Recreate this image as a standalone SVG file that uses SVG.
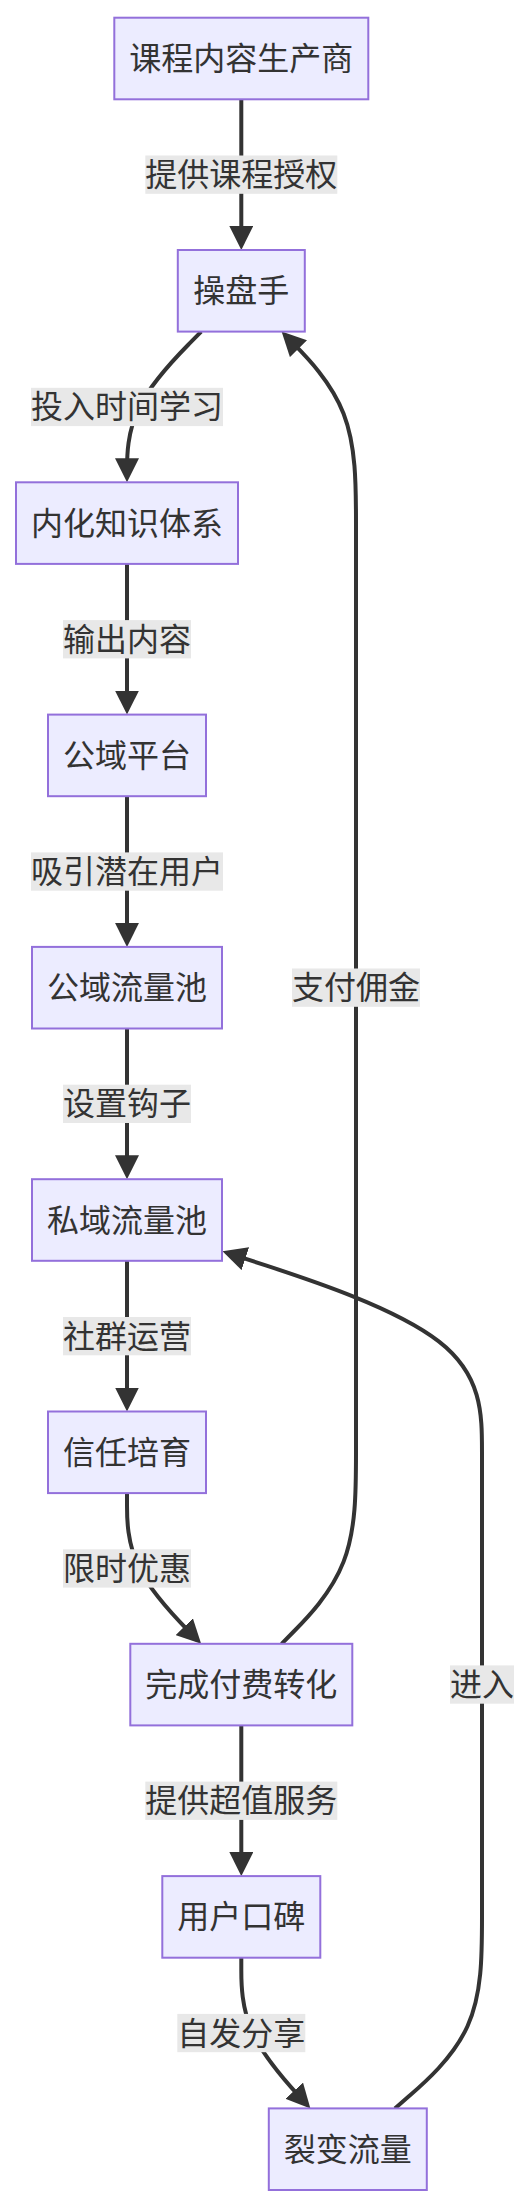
<svg xmlns="http://www.w3.org/2000/svg" width="532" height="2206" viewBox="0 0 532 2206">
<style>
.node rect{fill:#ECECFF;stroke:#9370DB;stroke-width:2}
text{font-family:"Noto Sans CJK SC","Noto Sans",sans-serif;font-size:32px;fill:#333;text-anchor:middle}
.edge{fill:none;stroke:#333;stroke-width:4;marker-end:url(#arrow)}
.lbl rect{fill:#e8e8e8}
</style>
<defs>
<marker id="arrow" viewBox="0 0 24 24" markerUnits="userSpaceOnUse" markerWidth="24" markerHeight="24" refX="19" refY="12" orient="auto">
<path d="M0,0 L24,12 L0,24 z" fill="#333"/>
</marker>
</defs>
<rect x="0" y="0" width="532" height="2206" fill="#fff"/>
<g id="connectors">
<path class="edge" d="M241.3,99.3 L241.3,245"/>
<path class="edge" d="M201.2,331.6 L188.83,344.16 C176.47,356.72 151.73,381.83 139.37,406.95 C127,432.07 127,457.18 127,469.74 L127,477.3"/>
<path class="edge" d="M127,563.9 L127,709.6"/>
<path class="edge" d="M127,796.2 L127,941.9"/>
<path class="edge" d="M127,1028.5 L127,1174.2"/>
<path class="edge" d="M127,1260.8 L127,1406.5"/>
<path class="edge" d="M127,1493.1 L127,1505.66 C127,1518.22 127,1543.33 139.36,1568.45 C151.72,1593.57 176.43,1618.68 188.79,1631.24 L197.64,1640.24"/>
<path class="edge" d="M241.3,1725.4 L241.3,1871.1"/>
<path class="edge" d="M241.3,1957.7 L241.3,1970.26 C241.3,1982.82 241.3,2007.93 252.82,2033.05 C264.33,2058.17 287.37,2083.28 298.88,2095.84 L307.02,2104.71"/>
<path class="edge" d="M281.6,1643.8 L294,1631.24 C306.4,1618.68 331.2,1593.57 343.6,1561.65 C356,1529.73 356,1491.02 356,1452.3 L356,523.1 C356,484.38 356,445.67 343.6,413.75 C331.2,381.83 306.4,356.72 294,344.16 L285.11,335.16"/>
<path class="edge" d="M394.9,2108.4 L409.42,2095.84 C423.93,2083.28 452.97,2058.17 467.48,2026.25 C482,1994.33 482,1955.62 482,1916.9 L482,1452.3 C482,1413.6 482,1374.9 438.75,1341.4 C395.5,1307.85 309,1279.55 265.75,1265.4 L227.25,1252.81"/>
</g>
<g id="edge-labels">
<g class="lbl" id="l1"><rect x="145.3" y="155.5" width="192" height="38.3"/><text x="241.3" y="186.1">提供课程授权</text></g>
<g class="lbl" id="l2"><rect x="31" y="387.8" width="192" height="38.3"/><text x="127" y="418.4">投入时间学习</text></g>
<g class="lbl" id="l3"><rect x="63" y="620.1" width="128" height="38.3"/><text x="127" y="650.7">输出内容</text></g>
<g class="lbl" id="l4"><rect x="31" y="852.4" width="192" height="38.3"/><text x="127" y="883">吸引潜在用户</text></g>
<g class="lbl" id="l5"><rect x="63" y="1084.7" width="128" height="38.3"/><text x="127" y="1115.3">设置钩子</text></g>
<g class="lbl" id="l6"><rect x="63" y="1317" width="128" height="38.3"/><text x="127" y="1347.6">社群运营</text></g>
<g class="lbl" id="l7"><rect x="63" y="1549.3" width="128" height="38.3"/><text x="127" y="1579.9">限时优惠</text></g>
<g class="lbl" id="l8"><rect x="145.3" y="1781.6" width="192" height="38.3"/><text x="241.3" y="1812.2">提供超值服务</text></g>
<g class="lbl" id="l9"><rect x="177.3" y="2013.9" width="128" height="38.3"/><text x="241.3" y="2044.5">自发分享</text></g>
<g class="lbl" id="l10"><rect x="292" y="968.5" width="128" height="38.3"/><text x="356" y="999.2">支付佣金</text></g>
<g class="lbl" id="l11"><rect x="450" y="1665.4" width="64" height="38.3"/><text x="482" y="1696.1">进入</text></g>
</g>
<g class="node" id="n1"><rect x="114.3" y="17.7" width="254" height="81.6"/><text x="241.3" y="70">课程内容生产商</text></g>
<g class="node" id="n2"><rect x="177.8" y="250" width="127" height="81.6"/><text x="241.3" y="302.3">操盘手</text></g>
<g class="node" id="n3"><rect x="16" y="482.3" width="222" height="81.6"/><text x="127" y="534.6">内化知识体系</text></g>
<g class="node" id="n4"><rect x="48" y="714.6" width="158" height="81.6"/><text x="127" y="766.9">公域平台</text></g>
<g class="node" id="n5"><rect x="32" y="946.9" width="190" height="81.6"/><text x="127" y="999.2">公域流量池</text></g>
<g class="node" id="n6"><rect x="32" y="1179.2" width="190" height="81.6"/><text x="127" y="1231.5">私域流量池</text></g>
<g class="node" id="n7"><rect x="48" y="1411.5" width="158" height="81.6"/><text x="127" y="1463.8">信任培育</text></g>
<g class="node" id="n8"><rect x="130.3" y="1643.8" width="222" height="81.6"/><text x="241.3" y="1696.1">完成付费转化</text></g>
<g class="node" id="n9"><rect x="162.3" y="1876.1" width="158" height="81.6"/><text x="241.3" y="1928.4">用户口碑</text></g>
<g class="node" id="n10"><rect x="268.8" y="2108.4" width="158" height="81.6"/><text x="347.8" y="2160.7">裂变流量</text></g>
</svg>
